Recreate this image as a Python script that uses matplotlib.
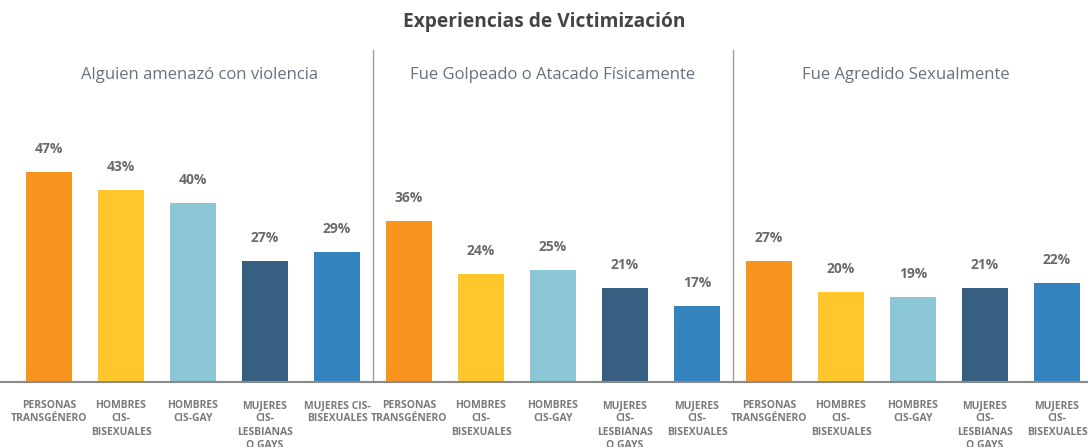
import matplotlib.pyplot as plt
import numpy as np

plt.rcParams['font.family'] = ['Open Sans', 'DejaVu Sans']

# Datos
titulo = 'Experiencias de Victimización'
paneles = ['Alguien amenazó con violencia',
           'Fue Golpeado o Atacado Físicamente',
           'Fue Agredido Sexualmente']
grupos = ['PERSONAS\nTRANSGÉNERO', 'HOMBRES\nCIS-\nBISEXUALES', 'HOMBRES\nCIS-GAY',
          'MUJERES\nCIS-\nLESBIANAS\nO GAYS', 'MUJERES\nCIS-\nBISEXUALES']
grupos_panel1 = grupos[:4] + ['MUJERES CIS-\nBISEXUALES']
amenaza = [47, 43, 40, 27, 29]
golpeado = [36, 24, 25, 21, 17]
agredido = [27, 20, 19, 21, 22]
colores = ['#F7941D', '#FFC72C', '#8BC6D4', '#365F82', '#3383BF']

W, H = 1088, 447
fig = plt.figure(figsize=(W / 100, H / 100), dpi=100)
base = 381.5       # linea base en px desde arriba
top_ax = 50        # borde superior del eje en px
px_per = 4.46      # px por punto porcentual
step = 72.0        # px entre barras
x0 = 49.0          # centro de la primera barra en px

ax = fig.add_axes([0, (H - base) / H, 1, (base - top_ax) / H])
ax.set_xlim(-x0 / step, (W - x0) / step)
ax.set_ylim(0, (base - top_ax) / px_per)

valores = amenaza + golpeado + agredido
xs = np.arange(len(valores))
ax.bar(xs, valores, width=46 / step, color=colores * 3, zorder=2)

for x, v in zip(xs, valores):
    ax.text(x, v + 23 / px_per, f'{v}%', ha='center', va='center',
            fontsize=10, fontweight='bold', color='#6b6b6b')

for sep in [4.5, 9.5]:
    ax.axvline(sep, color='#9a9a9a', lw=1, zorder=1)

# centros de los subtitulos (px)
for p, cx in zip(paneles, [200, 553, 906]):
    ax.text((cx - x0) / step, (base - 75) / px_per, p, ha='center', va='center',
            fontsize=12, color='#66727c')

fig.text(0.5, 1 - 22 / H, titulo, ha='center', va='center',
         fontsize=13.8, fontweight='bold', color='#444444')

ax.set_xticks(xs)
ax.set_xticklabels(grupos_panel1 + grupos + grupos, fontsize=7.5,
                   fontweight='bold', color='#7a7a7a', linespacing=1.28)
ax.tick_params(axis='x', length=0, pad=13.5)
ax.set_yticks([])
for s in ['top', 'left', 'right']:
    ax.spines[s].set_visible(False)
ax.spines['bottom'].set_color('#8a8a8a')
ax.spines['bottom'].set_linewidth(1.5)

fig.savefig('out.png', dpi=100)
